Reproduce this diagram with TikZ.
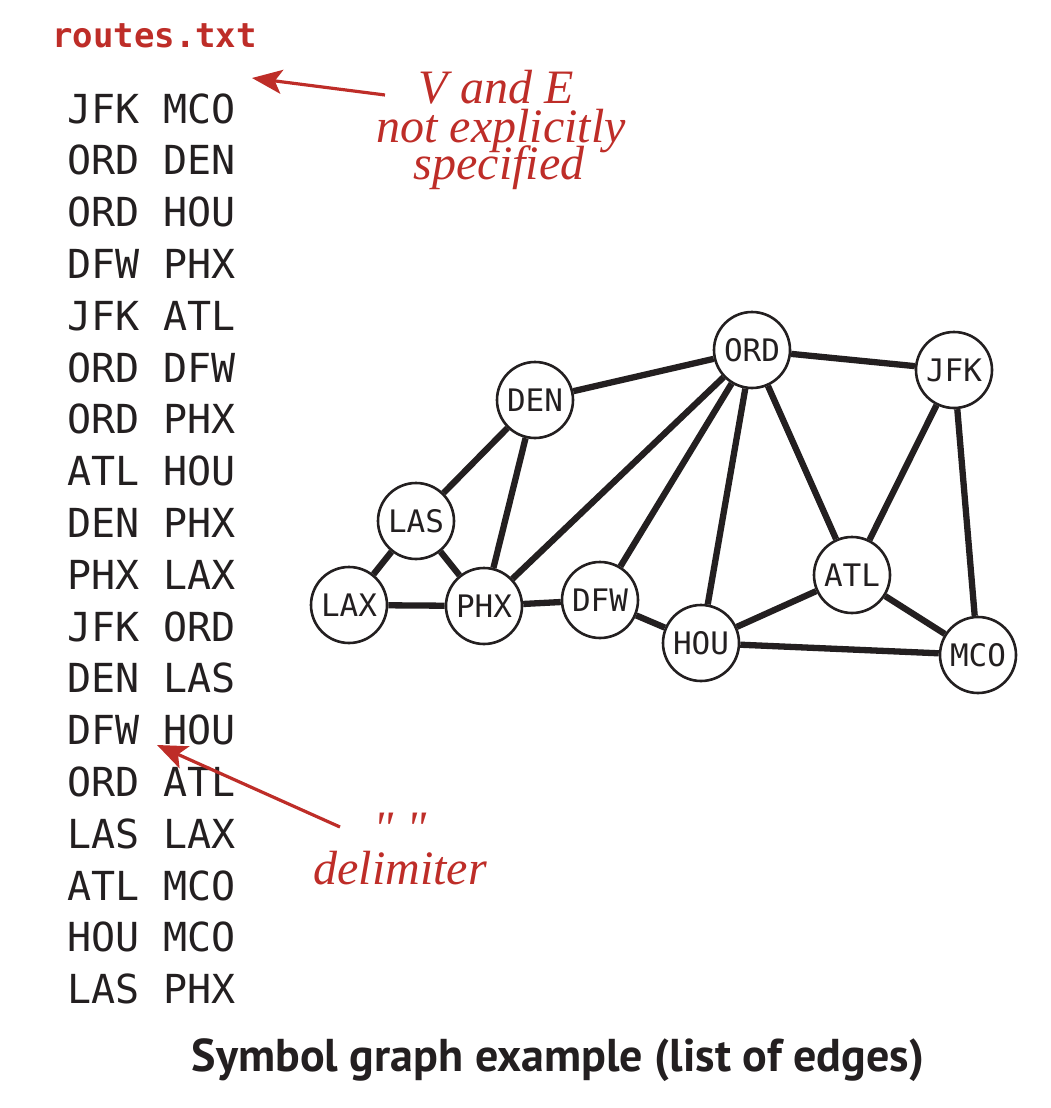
\documentclass[tikz,border=0pt]{standalone}
\usepackage{fontspec}
\setmonofont{DejaVu Sans Mono}
\newfontfamily\annfont{Liberation Serif}
\newfontfamily\capfont{PT Sans}
\usetikzlibrary{arrows.meta}
\definecolor{ink}{RGB}{35,31,32}
\definecolor{bookred}{RGB}{190,45,40}
\tikzset{
  apt/.style={circle,draw=ink,line width=2.6pt,fill=white,minimum size=76pt,inner sep=0pt,
    font=\fontsize{31}{31}\selectfont\ttfamily,text=ink},
  edge/.style={draw=ink,line width=6.3pt},
  listline/.style={anchor=base west,inner sep=0pt,font=\fontsize{40}{40}\selectfont\ttfamily,text=ink},
  ann/.style={anchor=base,text=bookred,inner sep=0pt,
    font=\fontsize{48}{48}\selectfont\annfont\itshape},
  callout/.style={draw=bookred,line width=3.2pt,-{Stealth[length=30pt,width=24pt,inset=7pt]}}
}
\begin{document}
\begin{tikzpicture}[x=1pt,y=-1pt]
\useasboundingbox (0,0) rectangle (1050,1108);
% title
\node[anchor=base west,inner sep=0pt,text=bookred,font=\fontsize{34}{34}\selectfont\ttfamily\bfseries] (title) at (52,48) {routes.txt};
% edge list
\foreach \a/\b [count=\i] in {JFK/MCO,ORD/DEN,ORD/HOU,DFW/PHX,JFK/ATL,ORD/DFW,ORD/PHX,ATL/HOU,DEN/PHX,PHX/LAX,JFK/ORD,DEN/LAS,DFW/HOU,ORD/ATL,LAS/LAX,ATL/MCO,HOU/MCO,LAS/PHX}
  \node[listline] (l\i) at (67,{123+51.8*(\i-1)}) {\a\ \b};
% annotations
\node[ann] (ve1) at (496,103) {V and E};
\node[ann] (ve2) at (501,142) {not explicitly};
\node[ann] (ve3) at (499,179) {specified};
\coordinate (veTip) at (252,78);
\draw[callout] (385,95) -- (veTip);
\node[ann] (delim1) at (400,844) {"\ "};
\node[ann] (delim2) at (400,884) {delimiter};
\coordinate (dTip) at (157,745);
\draw[callout] (340,827) -- (dTip);
% graph
\node[apt] (DEN) at (535,400) {DEN};
\node[apt] (LAS) at (416,521) {LAS};
\node[apt] (LAX) at (349,605) {LAX};
\node[apt] (PHX) at (484,606) {PHX};
\node[apt] (DFW) at (600,600) {DFW};
\node[apt] (HOU) at (701,643) {HOU};
\node[apt] (ORD) at (752,350) {ORD};
\node[apt] (JFK) at (954,370) {JFK};
\node[apt] (ATL) at (852,575) {ATL};
\node[apt] (MCO) at (978,655) {MCO};
\foreach \a/\b in {JFK/MCO,ORD/DEN,ORD/HOU,DFW/PHX,JFK/ATL,ORD/DFW,ORD/PHX,ATL/HOU,DEN/PHX,PHX/LAX,JFK/ORD,DEN/LAS,DFW/HOU,ORD/ATL,LAS/LAX,ATL/MCO,HOU/MCO,LAS/PHX}
  \draw[edge] (\a) -- (\b);
% caption
\node[inner sep=0pt,text=ink,font=\fontsize{46}{46}\selectfont\capfont\bfseries] (cap) at (558,1060) {Symbol graph example (list of edges)};
\end{tikzpicture}
\end{document}
